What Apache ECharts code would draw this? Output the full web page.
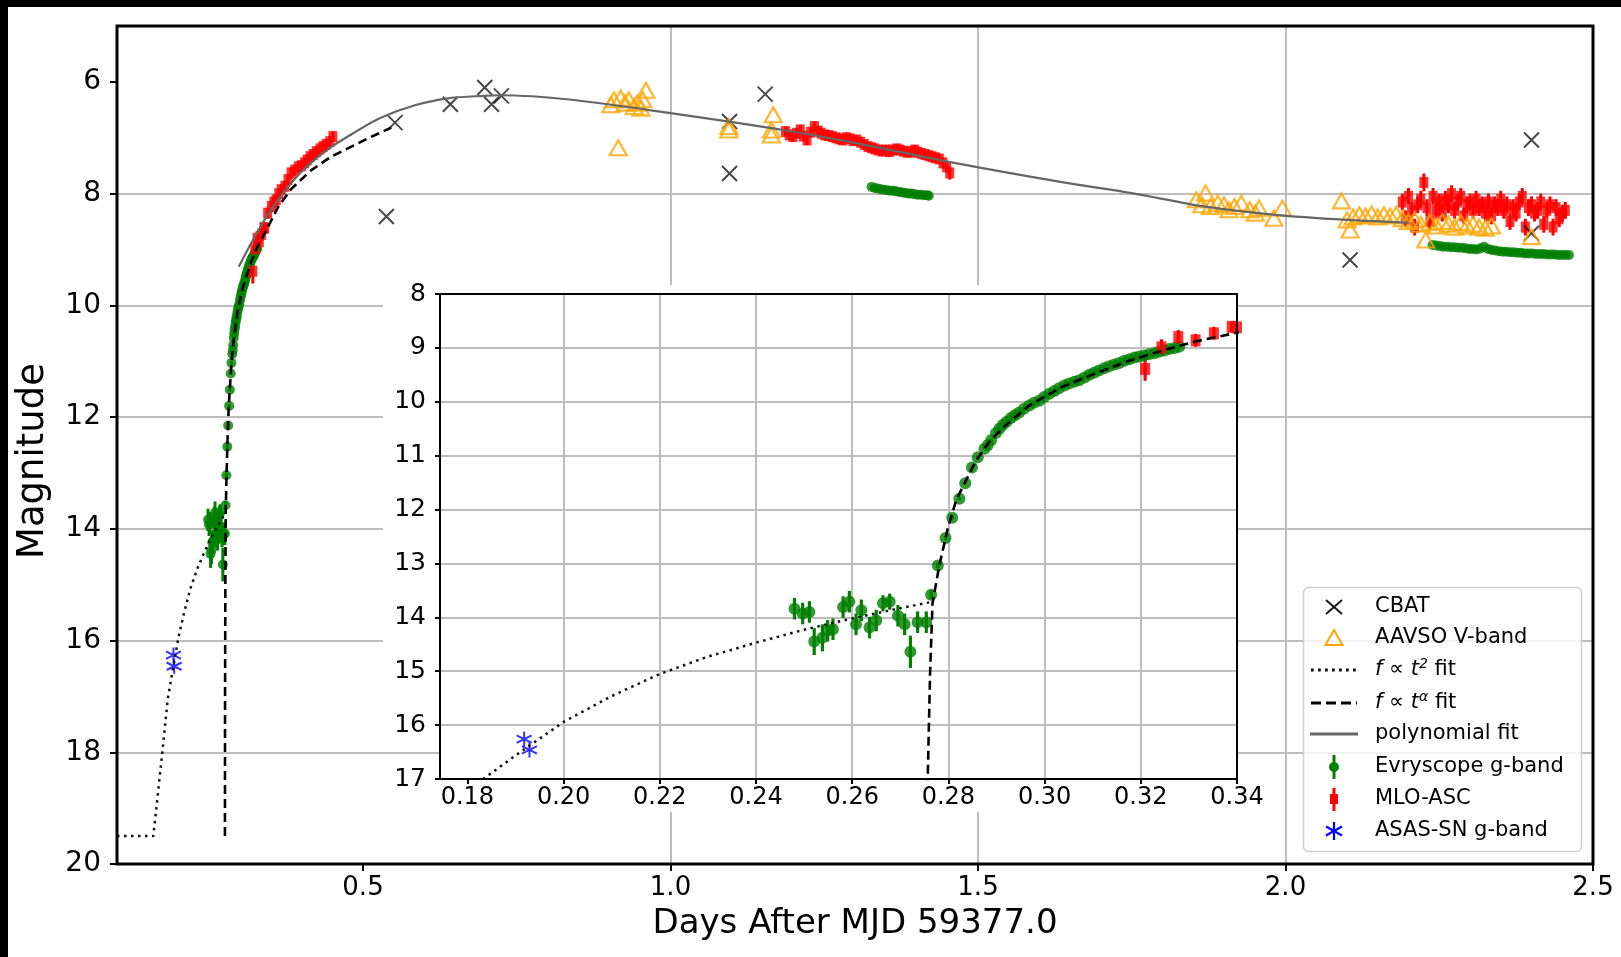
<!DOCTYPE html>
<html><head><meta charset="utf-8">
<script src="https://cdn.jsdelivr.net/npm/echarts@6/dist/echarts.min.js"></script>
<style>html,body{margin:0;padding:0;background:#000;}#c{width:1621px;height:957px;background:#fff;}</style>
</head><body><div id="c"></div>
<script>
// ---------------- data ----------------
const xTicks = [0.5, 1.0, 1.5, 2.0, 2.5];
const yTicks = [6, 8, 10, 12, 14, 16, 18, 20];
const insetXTicks = [0.18, 0.20, 0.22, 0.24, 0.26, 0.28, 0.30, 0.32, 0.34];
const insetYTicks = [8, 9, 10, 11, 12, 13, 14, 15, 16, 17];

// CBAT [x, mag]
const cbat = [[0.538,8.41],[0.552,6.73],[0.642,6.40],[0.698,6.10],[0.709,6.40],[0.725,6.25],
  [1.096,6.71],[1.096,7.64],[1.154,6.22],[2.105,9.19],[2.400,7.04],[2.400,8.71]];

// AAVSO V-band [x, mag]
const aavso = [[0.903,6.41],[0.908,6.32],[0.915,7.18],[0.919,6.29],[0.926,6.38],[0.932,6.32],[0.941,6.44],
  [0.946,6.38],[0.952,6.47],[0.955,6.32],[0.960,6.15],
  [1.095,6.80],[1.095,6.86],[1.164,6.86],[1.164,6.95],[1.167,6.59],
  [1.855,8.11],[1.864,8.20],[1.870,7.99],[1.878,8.23],[1.890,8.17],[1.900,8.20],[1.908,8.29],[1.917,8.23],
  [1.928,8.17],[1.942,8.29],[1.951,8.35],[1.957,8.26],[1.981,8.44],[1.995,8.26],
  [2.091,8.13],[2.100,8.47],[2.105,8.65],[2.110,8.42],[2.120,8.38],[2.130,8.40],[2.140,8.36],[2.150,8.42],
  [2.160,8.38],[2.170,8.40],[2.180,8.37],[2.190,8.45],[2.200,8.50],[2.210,8.47],[2.220,8.55],[2.228,8.83],
  [2.235,8.52],[2.245,8.58],[2.255,8.50],[2.265,8.55],[2.275,8.60],[2.285,8.52],[2.295,8.58],[2.305,8.55],
  [2.315,8.60],[2.325,8.62],[2.335,8.58],[2.400,8.77]];

// Evryscope g-band [x, mag, err]
const evryEarly = [[0.2480,13.84,0.2],[0.2497,13.93,0.2],[0.2511,13.90,0.2],[0.2521,14.45,0.25],[0.2538,14.38,0.25],
  [0.2549,14.25,0.2],[0.2560,14.22,0.2],[0.2581,13.81,0.2],[0.2594,13.71,0.2],[0.2608,14.13,0.2],[0.2619,13.87,0.2],
  [0.2636,14.19,0.2],[0.2650,14.06,0.2],[0.2664,13.74,0.15],[0.2678,13.71,0.15],[0.2695,13.97,0.2],[0.2709,14.13,0.2],
  [0.2721,14.64,0.3],[0.2736,14.09,0.2],[0.2754,14.09,0.2],[0.2764,13.58,0.08],[0.2778,13.04,0.05],[0.2794,12.53,0.04],
  [0.2808,12.15,0.04],[0.2823,11.80,0.03],[0.2835,11.51,0.03],[0.2849,11.22,0.03],[0.2861,11.03,0.03],[0.2875,10.87,0.03],
  [0.2882,10.80,0.03],[0.2889,10.71,0.03],[0.2899,10.58,0.03],[0.2906,10.50,0.03],[0.2913,10.43,0.03],[0.2921,10.37,0.03],
  [0.2930,10.30,0.03],[0.2938,10.25,0.03],[0.2947,10.20,0.03],[0.2957,10.13,0.03],[0.2968,10.07,0.03],
  [0.2978,10.02,0.03],[0.2989,9.98,0.03],[0.2999,9.91,0.03],[0.3010,9.85,0.03],[0.3020,9.80,0.03],[0.3030,9.75,0.03],
  [0.3041,9.70,0.03],[0.3051,9.66,0.03],[0.3062,9.63,0.03],[0.3072,9.60,0.03],[0.3083,9.55,0.03],[0.3093,9.50,0.03],
  [0.3103,9.46,0.03],[0.3113,9.42,0.03],[0.3124,9.38,0.03],[0.3134,9.34,0.03],[0.3145,9.31,0.03],[0.3155,9.28,0.03],
  [0.3166,9.24,0.03],[0.3176,9.21,0.03],[0.3187,9.18,0.03],[0.3197,9.16,0.03],[0.3207,9.14,0.03],[0.3217,9.12,0.03],
  [0.3228,9.10,0.03],[0.3238,9.07,0.03],[0.3249,9.05,0.03],[0.3259,9.02,0.03],[0.3270,9.00,0.03],[0.3280,8.98,0.03]];
const evryMid = [[1.327,7.88,0.03],[1.332,7.90,0.03],[1.337,7.91,0.03],[1.342,7.92,0.03],[1.347,7.93,0.03],[1.352,7.94,0.03],
  [1.357,7.95,0.03],[1.362,7.95,0.03],[1.367,7.96,0.03],[1.372,7.97,0.03],[1.377,7.98,0.03],[1.382,7.99,0.03],
  [1.387,8.00,0.03],[1.392,8.00,0.03],[1.397,8.01,0.03],[1.402,8.02,0.03],[1.407,8.02,0.03],[1.412,8.03,0.03],
  [1.417,8.03,0.03],[1.420,8.04,0.03]];
const evryLate = [[2.239,8.92,0.04],[2.245,8.93,0.04],[2.251,8.94,0.04],[2.257,8.95,0.04],[2.263,8.95,0.04],[2.269,8.96,0.04],
  [2.275,8.96,0.04],[2.281,8.97,0.04],[2.287,8.97,0.04],[2.293,8.98,0.04],[2.299,8.99,0.04],[2.305,8.99,0.04],
  [2.311,9.00,0.04],[2.317,8.98,0.04],[2.323,8.95,0.04],[2.329,8.99,0.04],[2.335,9.01,0.04],[2.341,9.02,0.04],
  [2.347,9.03,0.04],[2.353,9.04,0.04],[2.359,9.04,0.04],[2.365,9.05,0.04],[2.371,9.05,0.04],[2.377,9.06,0.04],
  [2.383,9.06,0.04],[2.389,9.07,0.04],[2.395,9.07,0.04],[2.401,9.07,0.04],[2.407,9.08,0.04],[2.413,9.08,0.04],
  [2.419,9.08,0.04],[2.425,9.09,0.04],[2.431,9.09,0.04],[2.437,9.09,0.04],[2.443,9.10,0.04],[2.449,9.10,0.04],
  [2.455,9.10,0.04],[2.461,9.10,0.04]];

// MLO-ASC [x, mag, err]
const mloEarly = [[0.3209,9.39,0.22],[0.3243,8.99,0.15],[0.3278,8.80,0.13],[0.3314,8.86,0.12],[0.3352,8.73,0.12],
  [0.3389,8.61,0.10],[0.340,8.62,0.1],[0.345,8.35,0.1],[0.351,8.23,0.1],[0.355,8.15,0.1],[0.359,8.11,0.1],[0.363,8.00,0.1],
  [0.367,7.93,0.1],[0.373,7.87,0.1],[0.378,7.75,0.1],[0.383,7.63,0.1],[0.389,7.58,0.1],[0.395,7.52,0.1],[0.400,7.50,0.1],
  [0.405,7.45,0.1],[0.409,7.40,0.1],[0.414,7.34,0.1],[0.419,7.30,0.1],[0.424,7.25,0.1],[0.430,7.20,0.1],[0.435,7.16,0.1],
  [0.440,7.12,0.1],[0.446,7.07,0.1],[0.451,6.98,0.1]];
const mloMid = [[1.187,6.89,0.09],[1.193,6.95,0.09],[1.199,6.98,0.09],[1.205,6.92,0.09],[1.211,6.86,0.09],[1.216,6.97,0.09],
  [1.222,7.04,0.09],[1.228,6.90,0.09],[1.234,6.80,0.09],[1.240,6.88,0.09],[1.245,6.92,0.09],[1.251,6.95,0.09],
  [1.257,6.96,0.09],[1.263,6.98,0.09],[1.269,7.00,0.09],[1.274,7.02,0.09],[1.280,7.04,0.09],[1.286,7.00,0.09],
  [1.292,7.02,0.09],[1.297,7.05,0.09],[1.303,7.04,0.09],[1.309,7.08,0.09],[1.315,7.12,0.09],[1.321,7.16,0.09],
  [1.327,7.18,0.09],[1.332,7.20,0.09],[1.338,7.22,0.09],[1.344,7.24,0.09],[1.350,7.22,0.09],[1.356,7.25,0.09],
  [1.362,7.22,0.09],[1.368,7.20,0.09],[1.373,7.22,0.09],[1.379,7.24,0.09],[1.385,7.26,0.09],[1.391,7.25,0.09],
  [1.397,7.22,0.09],[1.402,7.26,0.09],[1.408,7.28,0.09],[1.414,7.30,0.09],[1.420,7.32,0.09],[1.425,7.34,0.09],
  [1.431,7.36,0.09],[1.437,7.38,0.09],[1.443,7.45,0.1],[1.449,7.52,0.1],[1.454,7.63,0.12]];
const mloLate = [[2.190,8.15,0.15],[2.195,8.45,0.15],[2.200,8.05,0.15],[2.205,8.30,0.15],[2.210,8.60,0.15],[2.215,8.20,0.15],
  [2.220,8.10,0.15],[2.225,7.80,0.16],[2.230,8.25,0.15],[2.235,8.50,0.15],[2.240,8.05,0.15],[2.245,8.30,0.15],
  [2.250,8.15,0.15],[2.255,8.35,0.15],[2.260,8.10,0.15],[2.265,8.20,0.15],[2.270,8.00,0.15],[2.275,8.30,0.15],
  [2.280,8.15,0.15],[2.285,8.05,0.15],[2.290,8.40,0.15],[2.295,8.20,0.15],[2.300,8.15,0.15],[2.305,8.30,0.15],
  [2.310,8.10,0.15],[2.315,8.25,0.15],[2.320,8.20,0.15],[2.325,8.35,0.15],[2.330,8.15,0.15],[2.335,8.40,0.15],
  [2.340,8.20,0.15],[2.345,8.25,0.15],[2.350,8.10,0.15],[2.355,8.30,0.15],[2.360,8.20,0.15],[2.365,8.50,0.15],
  [2.370,8.25,0.15],[2.375,8.35,0.15],[2.380,8.15,0.15],[2.385,8.05,0.15],[2.390,8.60,0.15],[2.395,8.25,0.15],
  [2.400,8.20,0.15],[2.405,8.35,0.15],[2.410,8.30,0.15],[2.415,8.15,0.15],[2.420,8.55,0.15],[2.425,8.30,0.15],
  [2.430,8.20,0.15],[2.435,8.60,0.15],[2.440,8.25,0.15],[2.445,8.45,0.15],[2.450,8.35,0.15],[2.455,8.30,0.15]];

// ASAS-SN g-band [x, mag]
const asas = [[0.1918,16.26],[0.1929,16.46]];

// fit curves [x, mag]
const fitT2 = [[0.100,19.50],[0.159,19.50],[0.164,19.00],[0.1695,18.43],[0.175,17.86],[0.1825,17.05],[0.191,16.50],
  [0.200,15.94],[0.210,15.46],[0.220,15.05],[0.230,14.73],[0.240,14.47],[0.250,14.23],[0.260,14.02],[0.270,13.83],[0.2767,13.71]];
const fitTa = [[0.2755,19.50],[0.2757,17.00],[0.2762,15.00],[0.2767,13.74],[0.2781,13.04],[0.2799,12.34],[0.2816,11.83],
  [0.2837,11.45],[0.2857,11.10],[0.2885,10.74],[0.2920,10.43],[0.2968,10.07],[0.3037,9.72],[0.3107,9.47],[0.3176,9.24],
  [0.3245,9.05],[0.3314,8.88],[0.3394,8.73],[0.350,8.50],[0.362,8.24],[0.383,7.92],[0.416,7.58],[0.448,7.34],
  [0.481,7.16],[0.514,6.98],[0.546,6.82]];
const fitPoly = [[0.298,9.31],[0.321,8.83],[0.354,8.23],[0.397,7.64],[0.441,7.22],[0.484,6.92],[0.527,6.65],[0.587,6.41],
  [0.641,6.29],[0.696,6.25],[0.723,6.24],[0.839,6.32],[1.000,6.56],[1.188,6.87],[1.304,7.10],[1.466,7.46],[1.634,7.79],
  [1.750,7.99],[1.867,8.23],[1.983,8.38],[2.100,8.47],[2.201,8.52]];

const legendLabels = ['CBAT', 'AAVSO V-band', '{it|f} ∝ {it|t}{sup|2} fit', '{it|f} ∝ {it|t}{sup|α} fit',
  'polynomial fit', 'Evryscope g-band', 'MLO-ASC', 'ASAS-SN g-band'];

// ---------------- styles ----------------
const FONT = 'DejaVu Sans';
const GREEN = '#008000', RED = '#ff0000', BLUE = '#0000ff', ORANGE = '#ffa500', GRIDC = '#bdbdbd';
const X_PATH = 'path://M0,0L10,10M10,0L0,10';
const AST_PATH = 'path://M5,0L5,10M0.67,2.5L9.33,7.5M0.67,7.5L9.33,2.5';

function errBars(data, color, w, ai, zl) {
  return { type: 'custom', xAxisIndex: ai, yAxisIndex: ai, zlevel: zl, z: 2, clip: true, silent: true,
    data: data,
    renderItem: function (params, api) {
      const x = api.value(0), y = api.value(1), e = api.value(2);
      const p1 = api.coord([x, y - e]), p2 = api.coord([x, y + e]);
      return { type: 'line', shape: { x1: p1[0], y1: p1[1], x2: p2[0], y2: p2[1] },
        style: { stroke: color, lineWidth: w } };
    } };
}
function scatter(data, ai, zl, symbol, size, itemStyle) {
  return { type: 'scatter', xAxisIndex: ai, yAxisIndex: ai, zlevel: zl, z: 2, silent: true, clip: true,
    data: data, symbol: symbol, symbolSize: size, itemStyle: itemStyle };
}
function line(data, ai, zl, ls) {
  return { type: 'line', xAxisIndex: ai, yAxisIndex: ai, zlevel: zl, z: 3, silent: true, clip: true,
    data: data, showSymbol: false, symbol: 'none', lineStyle: ls, smooth: false };
}
const dotStyle = { color: '#111', width: 2.5, type: [2.5, 4.5] };
const dashStyle = { color: '#000', width: 2.6, type: [9, 5] };
const polyStyle = { color: '#666', width: 2.2 };

const evryAll = evryEarly.concat(evryMid, evryLate);
const mloAll = mloEarly.concat(mloMid, mloLate);

const series = [
  // main panel
  errBars(evryAll, GREEN, 3, 0, 0),
  scatter(evryAll, 0, 0, 'circle', 10, { color: GREEN }),
  errBars(mloAll, RED, 3, 0, 0),
  scatter(mloAll, 0, 0, 'rect', [9, 11], { color: RED }),
  scatter(asas, 0, 0, AST_PATH, 15, { color: 'none', borderColor: BLUE, borderWidth: 2 }),
  scatter(cbat, 0, 0, X_PATH, 15, { color: 'none', borderColor: '#1a1a1a', borderWidth: 2 }),
  scatter(aavso, 0, 0, 'triangle', [17, 15], { color: 'rgba(0,0,0,0)', borderColor: ORANGE, borderWidth: 2.2 }),
  line(fitT2, 0, 0, dotStyle),
  line(fitTa, 0, 0, dashStyle),
  Object.assign(line(fitPoly, 0, 0, polyStyle), { smooth: 0.3 }),
  // inset panel
  errBars(evryEarly, GREEN, 3.2, 1, 2),
  scatter(evryEarly, 1, 2, 'circle', 12, { color: GREEN }),
  errBars(mloEarly, RED, 3.2, 1, 2),
  scatter(mloEarly, 1, 2, 'rect', [10, 12], { color: RED }),
  scatter(asas, 1, 2, AST_PATH, 15, { color: 'none', borderColor: BLUE, borderWidth: 2 }),
  line(fitT2, 1, 2, dotStyle),
  line(fitTa, 1, 2, dashStyle)
];

// ---------------- legend (graphic) ----------------
const LX = 1334, TX = 1375;
const rowY = [607, 638, 670, 703, 734, 767, 799, 831];
const txtStyle = { fontSize: 21, fontFamily: FONT, fill: '#000', align: 'left', verticalAlign: 'middle',
  rich: { it: { fontStyle: 'italic', fontSize: 21, fontFamily: FONT, lineHeight: 26 },
          sup: { fontStyle: 'italic', fontSize: 14, fontFamily: FONT, verticalAlign: 'top', lineHeight: 14 } } };
const G = [];
G.push({ type: 'rect', zlevel: 2, z: 50, shape: { x: 1303.5, y: 587.5, width: 278, height: 264, r: 5 },
  style: { fill: 'rgba(255,255,255,0.8)', stroke: '#d0d0d0', lineWidth: 1.5 } });
legendLabels.forEach(function (t, i) {
  G.push({ type: 'text', zlevel: 2, z: 52, x: TX, y: rowY[i], style: Object.assign({ text: t }, txtStyle) });
});
// CBAT x
G.push({ type: 'line', zlevel: 2, z: 51, shape: { x1: LX - 8, y1: rowY[0] - 7, x2: LX + 8, y2: rowY[0] + 7 }, style: { stroke: '#1a1a1a', lineWidth: 2 } });
G.push({ type: 'line', zlevel: 2, z: 51, shape: { x1: LX + 8, y1: rowY[0] - 7, x2: LX - 8, y2: rowY[0] + 7 }, style: { stroke: '#1a1a1a', lineWidth: 2 } });
// AAVSO triangle
G.push({ type: 'polygon', zlevel: 2, z: 51, shape: { points: [[LX, rowY[1] - 8], [LX - 8.5, rowY[1] + 7], [LX + 8.5, rowY[1] + 7]] },
  style: { fill: 'none', stroke: ORANGE, lineWidth: 2 } });
// fit lines
G.push({ type: 'line', zlevel: 2, z: 51, shape: { x1: 1311, y1: rowY[2], x2: 1357, y2: rowY[2] }, style: { stroke: '#111', lineWidth: 2.8, lineDash: [2.8, 4.2] } });
G.push({ type: 'line', zlevel: 2, z: 51, shape: { x1: 1311, y1: rowY[3], x2: 1357, y2: rowY[3] }, style: { stroke: '#000', lineWidth: 2.8, lineDash: [10, 5] } });
G.push({ type: 'line', zlevel: 2, z: 51, shape: { x1: 1310, y1: rowY[4], x2: 1358, y2: rowY[4] }, style: { stroke: '#666', lineWidth: 2.8 } });
// Evryscope
G.push({ type: 'line', zlevel: 2, z: 51, shape: { x1: LX, y1: rowY[5] - 12, x2: LX, y2: rowY[5] + 12 }, style: { stroke: GREEN, lineWidth: 3 } });
G.push({ type: 'circle', zlevel: 2, z: 51, shape: { cx: LX, cy: rowY[5], r: 5 }, style: { fill: GREEN } });
// MLO
G.push({ type: 'line', zlevel: 2, z: 51, shape: { x1: LX, y1: rowY[6] - 11, x2: LX, y2: rowY[6] + 12 }, style: { stroke: RED, lineWidth: 3 } });
G.push({ type: 'rect', zlevel: 2, z: 51, shape: { x: LX - 4, y: rowY[6] - 5, width: 8, height: 10 }, style: { fill: RED } });
// ASAS-SN asterisk
G.push({ type: 'line', zlevel: 2, z: 51, shape: { x1: LX, y1: rowY[7] - 9, x2: LX, y2: rowY[7] + 9 }, style: { stroke: BLUE, lineWidth: 2.2 } });
G.push({ type: 'line', zlevel: 2, z: 51, shape: { x1: LX - 8, y1: rowY[7] - 4.5, x2: LX + 8, y2: rowY[7] + 4.5 }, style: { stroke: BLUE, lineWidth: 2.2 } });
G.push({ type: 'line', zlevel: 2, z: 51, shape: { x1: LX - 8, y1: rowY[7] + 4.5, x2: LX + 8, y2: rowY[7] - 4.5 }, style: { stroke: BLUE, lineWidth: 2.2 } });

// frames, inset backdrop, page edges, y title
G.push({ type: 'rect', zlevel: 0, z: 100, shape: { x: 117, y: 26, width: 1476, height: 838 }, style: { fill: 'none', stroke: '#000', lineWidth: 3 } });
G.push({ type: 'rect', zlevel: 1, z: 1, shape: { x: 383, y: 285, width: 58, height: 460 }, style: { fill: '#fff' } });
G.push({ type: 'rect', zlevel: 1, z: 1, shape: { x: 440, y: 285, width: 798, height: 527 }, style: { fill: '#fff' } });
G.push({ type: 'rect', zlevel: 2, z: 100, shape: { x: 440, y: 294, width: 797, height: 485 }, style: { fill: 'none', stroke: '#000', lineWidth: 2 } });
G.push({ type: 'text', zlevel: 0, z: 100, x: 33, y: 461, rotation: Math.PI / 2,
  style: { text: 'Magnitude', fontSize: 37, fontFamily: FONT, fill: '#000', align: 'center', verticalAlign: 'middle' } });
G.push({ type: 'rect', zlevel: 3, z: 1, shape: { x: 0, y: 0, width: 1621, height: 7 }, style: { fill: '#000' } });
G.push({ type: 'rect', zlevel: 3, z: 1, shape: { x: 0, y: 0, width: 8, height: 957 }, style: { fill: '#000' } });

// ---------------- axes ----------------
function axisCommon(ticks, fmt, fs, margin, tickLen, zl) {
  return {
    type: 'value', zlevel: zl, scale: true,
    axisLine: { show: false },
    axisTick: { show: true, inside: false, length: tickLen, customValues: ticks, lineStyle: { color: '#000', width: 2 } },
    axisLabel: { customValues: ticks, formatter: fmt, fontSize: fs, fontFamily: FONT, color: '#000', margin: margin },
    splitLine: { show: true, showMinLine: false, showMaxLine: false, lineStyle: { color: GRIDC, width: 2 } },
    minorTick: { show: false }, minorSplitLine: { show: false }
  };
}

const option = {
  animation: false,
  backgroundColor: '#fff',
  grid: [
    { left: 117, top: 26, width: 1476, height: 838, containLabel: false, show: false },
    { left: 440, top: 294, width: 797, height: 485, containLabel: false, show: false, zlevel: 2 }
  ],
  xAxis: [
    Object.assign(axisCommon(xTicks, v => v.toFixed(1), 26, 11, 7, 0), {
      gridIndex: 0, min: 0.1, max: 2.5,
      name: 'Days After MJD 59377.0', nameLocation: 'middle', nameGap: 43,
      nameTextStyle: { fontSize: 34, fontFamily: FONT, color: '#000' } }),
    Object.assign(axisCommon(insetXTicks, v => v.toFixed(2), 24, 7, 5, 2), {
      gridIndex: 1, min: 0.1743, max: 0.34 })
  ],
  yAxis: [
    Object.assign(axisCommon(yTicks, v => String(v), 28, 16, 7, 0), {
      gridIndex: 0, min: 5, max: 20, inverse: true }),
    Object.assign(axisCommon(insetYTicks, v => String(v), 25, 14, 5, 2), {
      gridIndex: 1, min: 8, max: 17, inverse: true })
  ],
  graphic: { elements: G },
  series: series
};

const chart = echarts.init(document.getElementById('c'), null, { renderer: 'canvas' });
chart.setOption(option);
</script></body></html>
